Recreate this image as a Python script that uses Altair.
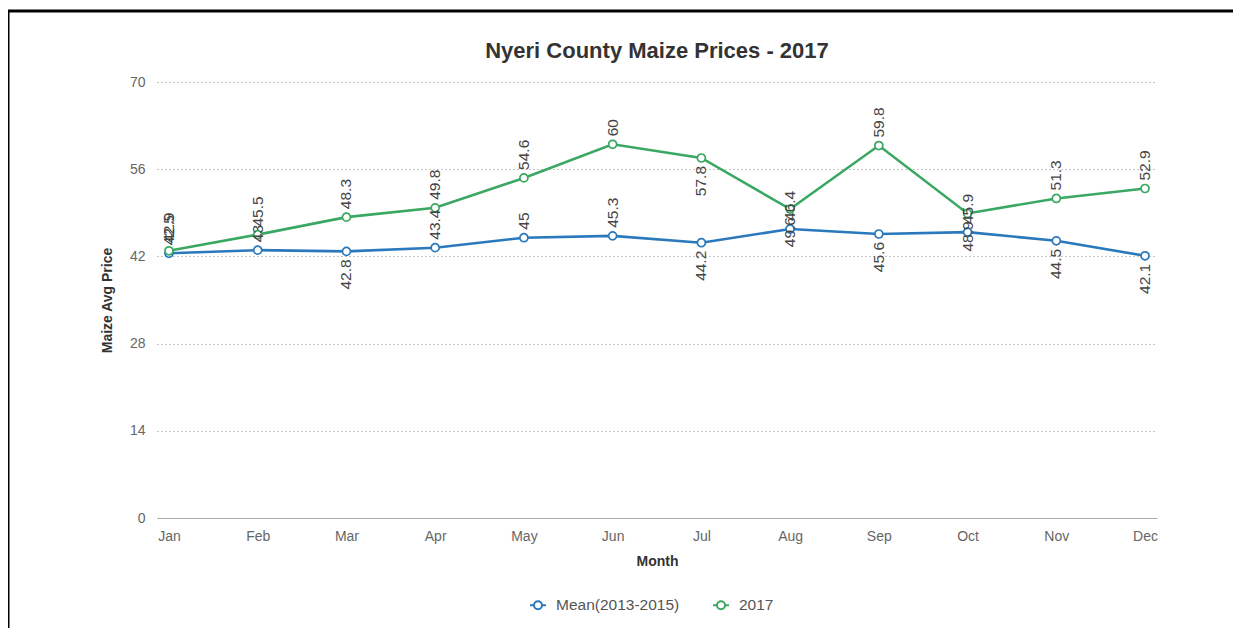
import altair as alt
import pandas as pd

months = ["Jan", "Feb", "Mar", "Apr", "May", "Jun", "Jul", "Aug", "Sep", "Oct", "Nov", "Dec"]
series_names = ["Mean(2013-2015)", "2017"]
mean_values = [42.5, 43, 42.8, 43.4, 45, 45.3, 44.2, 46.4, 45.6, 45.9, 44.5, 42.1]
y2017_values = [42.9, 45.5, 48.3, 49.8, 54.6, 60, 57.8, 49.6, 59.8, 48.9, 51.3, 52.9]
y_ticks = [0, 14, 28, 42, 56, 70]
series_colors = ["#2a79bd", "#3aa862"]

FONT = "Liberation Sans"
W, H = 1000, 436

rows = []
for name, vals in zip(series_names, [mean_values, y2017_values]):
    prev = None
    for m, v in zip(months, vals):
        side = "below" if (prev is not None and v < prev) else "above"
        rows.append({"Month": m, "Series": name, "Price": v, "label": f"{v:g}", "side": side})
        prev = v
df = pd.DataFrame(rows)

x = alt.X(
    "Month:N",
    sort=months,
    scale=alt.Scale(type="point", padding=0.135),
    axis=alt.Axis(
        title="Month", labelAngle=0, ticks=False, domainColor="#aaaaaa", domainWidth=1,
        labelColor="#666666", labelFontSize=14, labelPadding=11, labelFont=FONT,
        titleFont=FONT, titleFontSize=14, titleFontWeight="bold", titleColor="#333333",
        titlePadding=11, grid=False,
    ),
)
y = alt.Y(
    "Price:Q",
    scale=alt.Scale(domain=[0, 70], nice=False),
    axis=alt.Axis(
        title="Maize Avg Price", values=y_ticks, ticks=False, domain=False,
        labelColor="#666666", labelFontSize=14, labelPadding=12, labelFont=FONT,
        titleFont=FONT, titleFontSize=14, titleFontWeight="bold", titleColor="#333333",
        titlePadding=15, grid=True, gridColor="#8c8c8c", gridDash=[1, 3], gridWidth=1,
    ),
)
color_scale = alt.Scale(domain=series_names, range=series_colors)
legend_symbol = "M-1,0L-0.5,0M0.5,0L1,0M0.5,0A0.5,0.5,0,1,1,-0.5,0A0.5,0.5,0,1,1,0.5,0Z"
legend = alt.Legend(
    title=None, orient="none", legendX=372, legendY=514, direction="horizontal",
    symbolType=legend_symbol, symbolFillColor="white", symbolStrokeWidth=2, symbolSize=256,
    labelFont=FONT, labelFontSize=15.5, labelColor="#555555", columnPadding=29,
    labelOffset=9,
)
color = alt.Color("Series:N", scale=color_scale, sort=series_names, legend=legend)

base = alt.Chart(df)

lines = base.mark_line(strokeWidth=2.6).encode(x=x, y=y, color=color)

points = base.mark_point(
    shape="circle", filled=False, fill="white", fillOpacity=1, opacity=1, size=64, strokeWidth=1.7
).encode(x=x, y=y, color=color)

above = base.transform_filter(alt.datum.side == "above").mark_text(
    angle=270, align="left", baseline="middle", dx=8, fontSize=15.5, color="#444444", font=FONT
).encode(x=x, y=y, text="label:N")

below = base.transform_filter(alt.datum.side == "below").mark_text(
    angle=270, align="right", baseline="middle", dx=-8, fontSize=15.5, color="#444444", font=FONT
).encode(x=x, y=y, text="label:N")

frame_df = pd.DataFrame({"k": [0]})
border_top = alt.Chart(frame_df).mark_rule(color="black", strokeWidth=3).encode(
    x=alt.value(-152), x2=alt.value(W + 80), y=alt.value(-71)
)
border_left = alt.Chart(frame_df).mark_rule(color="black", strokeWidth=3).encode(
    x=alt.value(-149), y=alt.value(-72), y2=alt.value(H + 116)
)

chart = alt.layer(lines, points, above, below, border_top, border_left).properties(
    width=W,
    height=H,
    title=alt.TitleParams(
        "Nyeri County Maize Prices - 2017", anchor="middle", frame="group", baseline="bottom",
        offset=0, dy=76, fontSize=22, fontWeight="bold", color="#333333", font=FONT,
    ),
    autosize=alt.AutoSizeParams(type="none"),
    padding={"left": 149, "top": 74, "right": 76, "bottom": 110},
).configure(background="white").configure_view(stroke=None)

chart.save("out.html", embed_options={"renderer": "svg", "actions": False})
